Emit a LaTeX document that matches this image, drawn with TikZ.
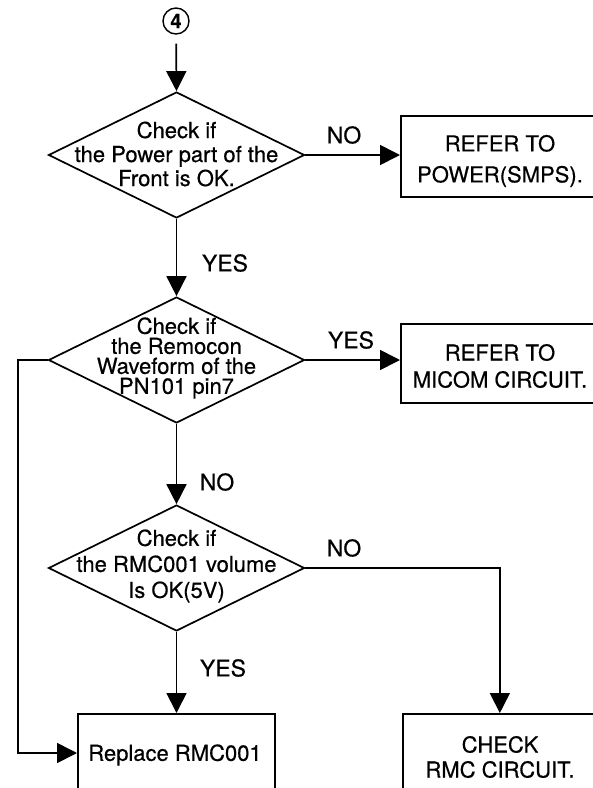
\documentclass[tikz,border=0pt]{standalone}
\usepackage{fontspec}
\setmainfont{TeX Gyre Heros}[FakeBold=0.5]
\usetikzlibrary{shapes.geometric,arrows.meta}
\begin{document}
\begin{tikzpicture}[x=1pt,y=-1pt,line width=1.7pt,
  dec/.style={diamond,draw,minimum width=256pt,minimum height=126pt,inner sep=0pt},
  box/.style={rectangle,draw,anchor=north west,inner sep=0pt},
  txt/.style={align=center,inner sep=0pt},
  lbl/.style={inner sep=0pt,font=\fontsize{23}{23}\selectfont},
  arr/.style={-{Triangle[length=20pt,width=20pt]}}]
\clip (0,0) rectangle (593,788);
% start marker
\node[circle,draw,line width=1.4pt,minimum size=26pt,inner sep=0pt,
  font=\bfseries\fontsize{20}{20}\selectfont] (c4) at (176,21) {4};
% decisions
\node[dec] (d1) at (176.5,155) {};
\node[txt,font=\fontsize{22}{24}\selectfont] (t1) at (176.5,154) {Check if\\the Power part of the\\Front is OK.};
\node[dec] (d2) at (176.5,360) {};
\node[txt,font=\fontsize{22}{20}\selectfont] (t2) at (176.5,358) {Check if\\the Remocon\\Waveform of the\\PN101 pin7};
\node[dec] (d3) at (176.5,568) {};
\node[txt,font=\fontsize{22}{26}\selectfont] (t3) at (176.5,566) {Check if\\the RMC001 volume\\Is OK(5V)};
% boxes
\node[box,minimum width=200pt,minimum height=81pt] (b1) at (400,115) {};
\node[txt,font=\fontsize{22}{31}\selectfont] (tb1) at (500,161) {REFER TO\\POWER(SMPS).};
\node[box,minimum width=200pt,minimum height=79pt] (b2) at (400,323) {};
\node[txt,font=\fontsize{22}{27}\selectfont] (tb2) at (500,366) {REFER TO\\MICOM CIRCUIT.};
\node[box,minimum width=197pt,minimum height=100pt] (b3) at (77,713) {};
\node[txt,font=\fontsize{22}{24}\selectfont] (tb3) at (175,755) {Replace RMC001};
\node[box,minimum width=194pt,minimum height=100pt] (b4) at (402,713) {};
\node[txt,font=\fontsize{22}{25}\selectfont] (tb4) at (500,757) {CHECK\\RMC CIRCUIT.};
% connectors
\draw[arr,shorten <=9pt] (c4) -- (d1.north);
\draw[arr] (d1.east) -- (d1.east -| b1.west);
\draw[arr] (d1.south) -- (d2.north);
\draw[arr] (d2.east) -- (d2.east -| b2.west);
\draw[arr] (d2.south) -- (d3.north);
\draw[arr] (d3.south) -- (d3.south |- b3.north);
\coordinate (lft) at (18,753);
\draw[arr] (d2.west) -| (lft) -- (lft -| b3.west);
\draw[arr] (d3.east) -| (b4.north);
% labels
\node[lbl] (l1) at (344,135) {NO};
\node[lbl] (l2) at (225,263) {YES};
\node[lbl] (l3) at (351,340) {YES};
\node[lbl] (l4) at (217,482) {NO};
\node[lbl] (l5) at (344,548) {NO};
\node[lbl] (l6) at (223,668) {YES};
\end{tikzpicture}
\end{document}
